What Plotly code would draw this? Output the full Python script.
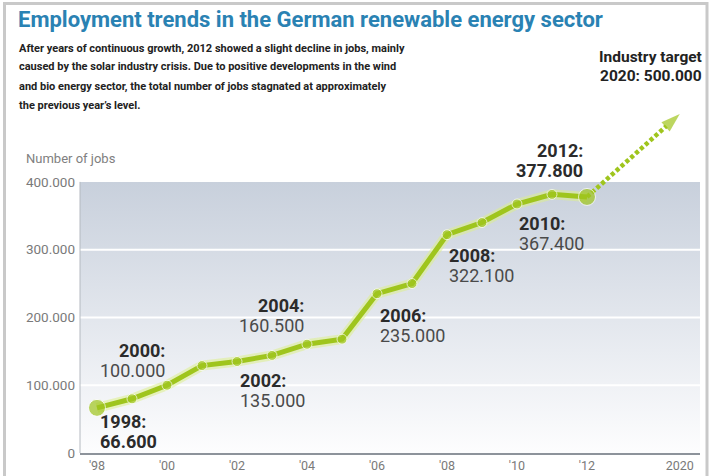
import plotly.graph_objects as go

# ---- data -------------------------------------------------------------
years = [1998, 1999, 2000, 2001, 2002, 2003, 2004, 2005,
         2006, 2007, 2008, 2009, 2010, 2011, 2012]
jobs = [66600, 80000, 100000, 129000, 135000, 144000, 160500, 168000,
        235000, 250000, 322100, 340000, 367400, 381600, 377800]

target_year = 2020
target_jobs = 500000

labelled_years = [1998, 2000, 2002, 2004, 2006, 2008, 2010, 2012]

y_tick_values = [0, 100000, 200000, 300000, 400000]
y_tick_labels = ["0", "100.000", "200.000", "300.000", "400.000"]
x_tick_years = [1998, 2000, 2002, 2004, 2006, 2008, 2010, 2012]
x_tick_labels = ["'98", "'00", "'02", "'04", "'06", "'08", "'10", "'12"]

title_text = "Employment trends in the German renewable energy sector"
intro_lines = [
    "After years of continuous growth, 2012 showed a slight decline in jobs, mainly",
    "caused by the solar industry crisis. Due to positive developments in the wind",
    "and bio energy sector, the total number of jobs stagnated at approximately",
    "the previous year\u2019s level.",
]

# ---- layout constants ---------------------------------------------------
W, H = 712, 476
L, R, T, B = 80, 12, 87, 23
X_RANGE = [1997.514, 2015.229]
Y_RANGE = [0, 540000]
SHADE_TOP = 400000
TARGET_POS = 2014.65          # the 2020 target sits on a shortened stretch of the axis

GREEN = "#9fc51d"
FONT = "Roboto"


def fmt(v):
    return f"{v:,}".replace(",", ".")


def paper_x(px):
    return (px - L) / (W - L - R)


def paper_y(py):
    return (H - B - py) / (H - T - B)


fig = go.Figure()

# shaded plotting band with a vertical gradient
fig.add_trace(go.Scatter(
    x=[X_RANGE[0], X_RANGE[1], X_RANGE[1], X_RANGE[0], X_RANGE[0]],
    y=[0, 0, SHADE_TOP, SHADE_TOP, 0],
    mode="lines", line=dict(width=0), fill="toself",
    fillgradient=dict(type="vertical",
                      colorscale=[[0, "#fdfdfe"], [1, "#c8d0dc"]],
                      start=0, stop=SHADE_TOP),
    hoverinfo="skip", showlegend=False,
))

# white grid lines across the band
gx, gy = [], []
for v in y_tick_values[1:-1]:
    gx += [X_RANGE[0], X_RANGE[1], None]
    gy += [v, v, None]
fig.add_trace(go.Scatter(x=gx, y=gy, mode="lines",
                         line=dict(color="white", width=2),
                         hoverinfo="skip", showlegend=False))

# dotted projection towards the 2020 target
fig.add_trace(go.Scatter(
    x=[years[-1], TARGET_POS], y=[jobs[-1], target_jobs],
    mode="lines+markers",
    line=dict(color=GREEN, width=4.5, dash="4px,2.5px"),
    marker=dict(symbol=["circle", "arrow"], size=[0, 20], angleref="previous",
                color=GREEN, line=dict(width=0)),
    hoverinfo="skip", showlegend=False, cliponaxis=False,
))

# soft halo beneath the main line
fig.add_trace(go.Scatter(x=years, y=jobs, mode="lines",
                         line=dict(color="rgba(220,238,140,0.55)", width=10),
                         hoverinfo="skip", showlegend=False))

sizes = [17 if y in (years[0], years[-1]) else 10 for y in years]
fig.add_trace(go.Scatter(
    x=years, y=jobs, mode="lines+markers",
    line=dict(color=GREEN, width=5),
    marker=dict(color=GREEN, size=sizes),
    hoverinfo="skip", showlegend=False, cliponaxis=False,
))

# ---- annotations ------------------------------------------------------
ann = []

# placement of each two-line value label: anchor side, x offset, y offsets (px)
placement = {
    1998: ("left", 1, -14, -34),
    2000: ("right", 0, 35, 15),
    2002: ("left", 1, -19, -39),
    2004: ("right", -1, 39, 19),
    2006: ("left", 1, -22, -42),
    2008: ("left", 0, -21, -41),
    2010: ("left", 0, -20, -40),
    2012: ("right", -2, 46, 26),
}
strong = {years[0], years[-1]}
for yr in labelled_years:
    v = jobs[years.index(yr)]
    side, xs, ys1, ys2 = placement[yr]
    ann.append(dict(x=yr, y=v, xref="x", yref="y", text=f"<b>{yr}:</b>",
                    showarrow=False, xanchor=side, xshift=xs, yshift=ys1,
                    font=dict(family=FONT, size=18, color="#2b2b2b")))
    val = f"<b>{fmt(v)}</b>" if yr in strong else fmt(v)
    ann.append(dict(x=yr, y=v, xref="x", yref="y", text=val,
                    showarrow=False, xanchor=side, xshift=xs, yshift=ys2,
                    font=dict(family=FONT, size=18,
                              color="#2b2b2b" if yr in strong else "#4a4a4a")))

# target label
ann.append(dict(x=TARGET_POS, y=target_jobs, xref="x", yref="y",
                text="<b>Industry target</b>", showarrow=False,
                xanchor="right", xshift=24, yshift=57,
                font=dict(family=FONT, size=15.5, color="#222222")))
ann.append(dict(x=TARGET_POS, y=target_jobs, xref="x", yref="y",
                text=f"<b>{target_year}: {fmt(target_jobs)}</b>", showarrow=False,
                xanchor="right", xshift=24, yshift=38,
                font=dict(family=FONT, size=15.5, color="#222222")))

# headline and intro text
ann.append(dict(x=paper_x(16), y=paper_y(20), xref="paper", yref="paper",
                text=f"<b>{title_text}</b>", showarrow=False,
                xanchor="left", yanchor="middle",
                font=dict(family=FONT, size=22, color="#2a82b3")))
for i, line in enumerate(intro_lines):
    ann.append(dict(x=paper_x(17), y=paper_y(48 + 19 * i), xref="paper", yref="paper",
                    text=f"<b>{line}</b>", showarrow=False,
                    xanchor="left", yanchor="middle",
                    font=dict(family=FONT, size=11, color="#222222")))

ann.append(dict(x=paper_x(24), y=paper_y(158), xref="paper", yref="paper",
                text="Number of jobs", showarrow=False,
                xanchor="left", yanchor="middle",
                font=dict(family=FONT, size=13, color="#808080")))

shapes = [
    # outer frame
    dict(type="rect", xref="paper", yref="paper",
         x0=paper_x(4.5), x1=paper_x(707), y0=paper_y(490), y1=paper_y(3.5),
         line=dict(color="#c9c9c9", width=3), fillcolor="rgba(0,0,0,0)", layer="below"),
    # left edge of the shaded band
    dict(type="line", xref="paper", yref="y", x0=0, x1=0, y0=0, y1=SHADE_TOP,
         line=dict(color="#b4b9c0", width=1), layer="above"),
]

fig.update_layout(
    width=W, height=H,
    margin=dict(l=L, r=R, t=T, b=B, autoexpand=False),
    paper_bgcolor="white", plot_bgcolor="white",
    showlegend=False,
    annotations=ann, shapes=shapes,
    xaxis=dict(range=X_RANGE, tickvals=x_tick_years + [TARGET_POS],
               ticktext=x_tick_labels + [str(target_year)],
               showgrid=False, zeroline=False, showline=True,
               linecolor="#8d939b", linewidth=2, ticks="",
               automargin=False,
               tickfont=dict(family=FONT, size=12.5, color="#7a7a7a"),
               fixedrange=True),
    yaxis=dict(range=Y_RANGE, tickvals=y_tick_values, ticktext=y_tick_labels,
               showgrid=False, zeroline=False, showline=False, ticks="",
               ticklabelstandoff=4, automargin=False,
               tickfont=dict(family=FONT, size=13.5, color="#7a7a7a"),
               fixedrange=True),
)

fig.write_html("out.html")
